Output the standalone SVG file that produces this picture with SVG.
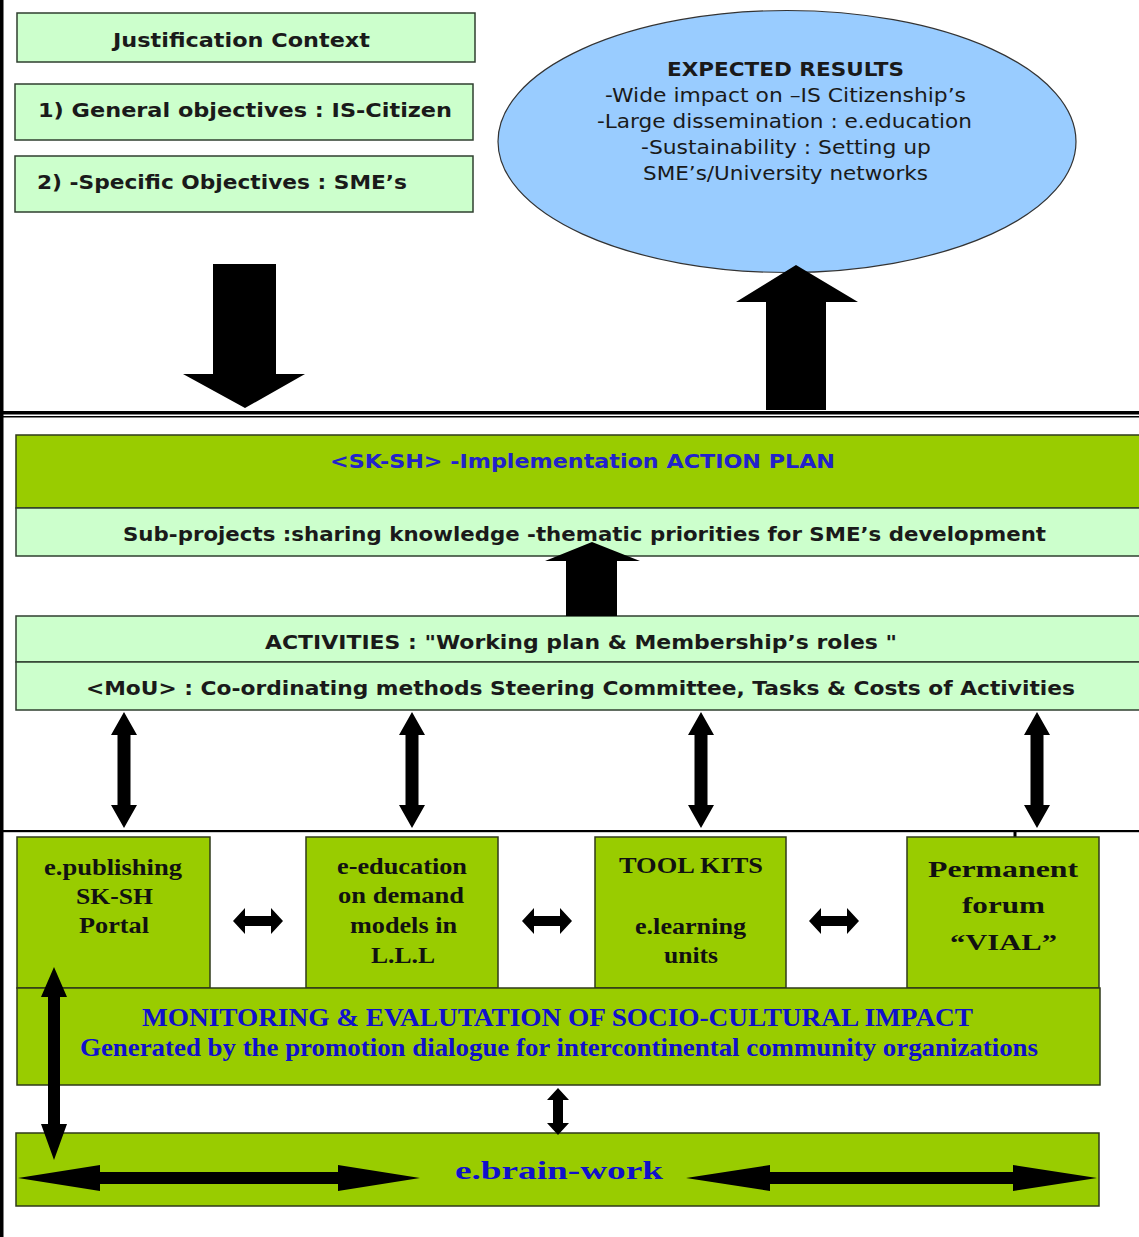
<svg xmlns="http://www.w3.org/2000/svg" width="1139" height="1237" viewBox="0 0 1139 1237">
<style>
.lg{fill:#ccffcc;stroke:#2f3f2f;stroke-width:1.5}
.dg{fill:#99cc00;stroke:#2f3a1a;stroke-width:1.5}
.el{fill:#99ccff;stroke:#333;stroke-width:1.2}
.ts{font-family:"DejaVu Sans","Liberation Sans",sans-serif;font-weight:bold;font-size:20px;fill:#1a1a1a;text-anchor:middle}
.te{font-family:"DejaVu Sans","Liberation Sans",sans-serif;font-size:19px;fill:#1a1a1a;text-anchor:middle}
.tb{fill:#2222cc}
.tr{font-family:"Liberation Serif","Times New Roman",serif;font-weight:bold;font-size:24px;fill:#111;text-anchor:middle}
.tm{font-family:"Liberation Serif","Times New Roman",serif;font-weight:bold;font-size:26px;fill:#1010cc;text-anchor:middle}
.arr{fill:#000}
.frame{fill:#000}
</style>
<rect width="1139" height="1237" fill="#fff"/>
<g id="frame">
<rect class="frame" x="0" y="0" width="3.5" height="1237"/>
<rect class="frame" x="0" y="411" width="1139" height="3.5"/>
<rect class="frame" x="0" y="416" width="1139" height="1.5"/>
<rect class="frame" x="0" y="830" width="1139" height="2.2"/>
<rect class="frame" x="1013.5" y="831" width="3" height="7"/>
</g>
<g id="justification">
<rect class="lg" x="17" y="13" width="458" height="49"/>
<text class="ts" x="241.5" y="47" textLength="257" lengthAdjust="spacingAndGlyphs">Justification Context</text>
</g>
<g id="general-objectives">
<rect class="lg" x="15" y="84" width="458" height="56"/>
<text class="ts" x="245" y="117" textLength="414" lengthAdjust="spacingAndGlyphs">1)  General objectives  : IS-Citizen</text>
</g>
<g id="specific-objectives">
<rect class="lg" x="15" y="156" width="458" height="56"/>
<text class="ts" x="222" y="189" textLength="370" lengthAdjust="spacingAndGlyphs">2) -Specific Objectives  : SME’s</text>
</g>
<g id="expected-results">
<ellipse class="el" cx="787" cy="141.5" rx="289" ry="131"/>
<text class="te" x="785.5" y="76" font-weight="bold" textLength="237" lengthAdjust="spacingAndGlyphs">EXPECTED RESULTS</text>
<text class="te" x="785.5" y="102" textLength="361" lengthAdjust="spacingAndGlyphs">-Wide impact on –IS Citizenship’s</text>
<text class="te" x="784.5" y="128" textLength="375" lengthAdjust="spacingAndGlyphs">-Large dissemination : e.education</text>
<text class="te" x="786" y="154" textLength="290" lengthAdjust="spacingAndGlyphs">-Sustainability : Setting up</text>
<text class="te" x="785.5" y="180" textLength="285" lengthAdjust="spacingAndGlyphs">SME’s/University networks</text>
</g>
<g id="action-plan">
<rect class="dg" x="16" y="435" width="1130" height="73"/>
<text class="ts tb" x="582.5" y="468" font-size="21" textLength="505" lengthAdjust="spacingAndGlyphs">&lt;SK-SH&gt; -Implementation  ACTION PLAN</text>
</g>
<g id="sub-projects">
<rect class="lg" x="16" y="508" width="1130" height="48"/>
<text class="ts" x="584.5" y="541" font-size="21" textLength="923" lengthAdjust="spacingAndGlyphs">Sub-projects :sharing knowledge -thematic priorities for SME’s development</text>
</g>
<g id="activities">
<rect class="lg" x="16" y="616" width="1130" height="46"/>
<text class="ts" x="581" y="649" font-size="21" textLength="632" lengthAdjust="spacingAndGlyphs">ACTIVITIES :  "Working plan &amp; Membership’s roles "</text>
</g>
<g id="mou">
<rect class="lg" x="16" y="662" width="1130" height="48"/>
<text class="ts" x="580.5" y="695" font-size="21" textLength="989" lengthAdjust="spacingAndGlyphs">&lt;MoU&gt; : Co-ordinating methods  Steering Committee, Tasks &amp; Costs  of  Activities</text>
</g>
<g id="e-publishing">
<rect class="dg" x="17" y="837" width="193" height="151"/>
<text class="tr" x="113" y="875" textLength="138" lengthAdjust="spacingAndGlyphs">e.publishing</text>
<text class="tr" x="114.5" y="904" textLength="77" lengthAdjust="spacingAndGlyphs">SK-SH</text>
<text class="tr" x="114" y="933" textLength="70" lengthAdjust="spacingAndGlyphs">Portal</text>
</g>
<g id="e-education">
<rect class="dg" x="306" y="837" width="192" height="151"/>
<text class="tr" x="402" y="874" textLength="130" lengthAdjust="spacingAndGlyphs">e-education</text>
<text class="tr" x="401" y="903" textLength="126" lengthAdjust="spacingAndGlyphs">on demand</text>
<text class="tr" x="403.5" y="933" textLength="107" lengthAdjust="spacingAndGlyphs">models in</text>
<text class="tr" x="403" y="963" textLength="64" lengthAdjust="spacingAndGlyphs">L.L.L</text>
</g>
<g id="tool-kits">
<rect class="dg" x="595" y="837" width="191" height="151"/>
<text class="tr" x="691" y="873" textLength="144" lengthAdjust="spacingAndGlyphs">TOOL KITS</text>
<text class="tr" x="690.5" y="934" textLength="111" lengthAdjust="spacingAndGlyphs">e.learning</text>
<text class="tr" x="691" y="963" textLength="54" lengthAdjust="spacingAndGlyphs">units</text>
</g>
<g id="permanent-forum">
<rect class="dg" x="907" y="837" width="192" height="151"/>
<text class="tr" x="1003" y="877" font-size="30" textLength="150" lengthAdjust="spacingAndGlyphs">Permanent</text>
<text class="tr" x="1003.5" y="913" font-size="30" textLength="83" lengthAdjust="spacingAndGlyphs">forum</text>
<text class="tr" x="1003.5" y="950" font-size="30" font-weight="normal" textLength="107" lengthAdjust="spacingAndGlyphs">“VIAL”</text>
</g>
<g id="monitoring">
<rect class="dg" x="17" y="988" width="1083" height="97"/>
<text class="tm" x="557.5" y="1026" textLength="831" lengthAdjust="spacingAndGlyphs">MONITORING &amp; EVALUTATION  OF SOCIO-CULTURAL IMPACT</text>
<text class="tm" x="559" y="1056" font-size="25" textLength="958" lengthAdjust="spacingAndGlyphs">Generated by the promotion  dialogue for intercontinental community organizations</text>
</g>
<g id="e-brain-work">
<rect class="dg" x="16" y="1133" width="1083" height="73"/>
<text class="tm" x="559" y="1179" font-size="37" textLength="208" lengthAdjust="spacingAndGlyphs">e.brain-work</text>
</g>
<g id="connectors">
<path class="arr" d="M213,264H276V374H305L245,408L183,374H213Z"/>
<path class="arr" d="M796,265L858,302H826V410H766V302H736Z"/>
<path class="arr" d="M592,542L640,561H617V616H566V561H545Z"/>
<path class="arr" d="M124,712L137,735H130.5V805H137L124,828L111,805H117.5V735H111Z"/>
<path class="arr" d="M412,712L425,735H418.5V805H425L412,828L399,805H405.5V735H399Z"/>
<path class="arr" d="M701,712L714,735H707.5V805H714L701,828L688,805H694.5V735H688Z"/>
<path class="arr" d="M1037,712L1050,735H1043.5V805H1050L1037,828L1024,805H1030.5V735H1024Z"/>
<path class="arr" d="M233,921L245,908V916H271V908L283,921L271,934V926H245V934Z"/>
<path class="arr" d="M522,921L534,908V916H560V908L572,921L560,934V926H534V934Z"/>
<path class="arr" d="M809,921L821,908V916H847V908L859,921L847,934V926H821V934Z"/>
<path class="arr" d="M54,967L67,997H60V1124H67L54,1160L41,1124H48V997H41Z"/>
<path class="arr" d="M558,1088L569,1100H563V1123H569L558,1135L547,1123H553V1100H547Z"/>
<path class="arr" d="M18,1178L100,1165V1172H338V1165L420,1178L338,1191V1184H100V1191Z"/>
<path class="arr" d="M686,1178L770,1165V1172H1013V1165L1097,1178L1013,1191V1184H770V1191Z"/>
</g>
</svg>
